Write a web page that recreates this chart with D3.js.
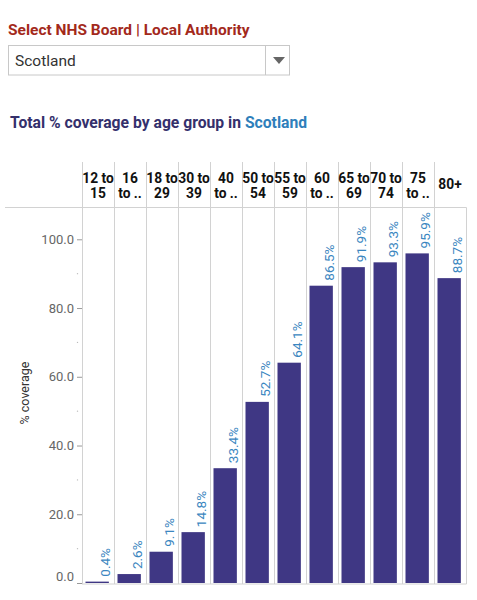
<!DOCTYPE html>
<html>
<head>
    <meta charset='utf-8' />
    <title>coverage by age group</title>
    <style>
      body { margin: 0; background: #fff; font-family: Roboto, "Noto Sans", sans-serif; }
    </style>
</head>
<body>
  <div id="wrapper"></div>
<script src='https://d3js.org/d3.v7.min.js' charset='utf-8'></script>
<script>
const width = 477
const height = 600

// age groups + the (truncated) header text shown above each column
const ageGroups = ["12 to 15", "16 to 17", "18 to 29", "30 to 39", "40 to 49", "50 to 54",
                   "55 to 59", "60 to 64", "65 to 69", "70 to 74", "75 to 79", "80+"]
const headerLines = [["12 to", "15"], ["16", "to .."], ["18 to", "29"], ["30 to", "39"],
                     ["40", "to .."], ["50 to", "54"], ["55 to", "59"], ["60", "to .."],
                     ["65 to", "69"], ["70 to", "74"], ["75", "to .."], ["80+"]]
const coverage = [0.4, 2.6, 9.1, 14.8, 33.4, 52.7, 64.1, 86.5, 91.9, 93.3, 95.9, 88.7]
const yTicks = [0, 20, 40, 60, 80, 100]
const yMinorTicks = [10, 30, 50, 70, 90]
const area = "Scotland"

const barColor = "#3f3784"
const labelColor = "#3a86c0"
const gridColor = "#d2d2d2"

const svg = d3.select("#wrapper").append("svg")
    .attr("width", width)
    .attr("height", height)

// --- selector at the top
svg.append("text")
    .attr("x", 8).attr("y", 35)
    .attr("font-size", 15.5).attr("font-weight", "bold")
    .attr("fill", "#a3291b")
    .text("Select NHS Board | Local Authority")

svg.append("rect")
    .attr("x", 8.5).attr("y", 45.5).attr("width", 281).attr("height", 29.5)
    .attr("fill", "#fff").attr("stroke", "#c8c8c8")
svg.append("line")
    .attr("x1", 265.5).attr("x2", 265.5).attr("y1", 46).attr("y2", 75)
    .attr("stroke", "#c8c8c8")
svg.append("path")
    .attr("d", "M273,57 L285,57 L279,64 Z")
    .attr("fill", "#666")
svg.append("text")
    .attr("x", 15).attr("y", 66)
    .attr("font-size", 15.5).attr("fill", "#333")
    .text(area)

// --- title
const title = svg.append("text")
    .attr("x", 10).attr("y", 128)
    .attr("font-size", 15.7).attr("font-weight", "bold")
    .attr("fill", "#34306c")
title.append("tspan").text("Total % coverage by age group in ")
title.append("tspan").attr("fill", "#2f7fbb").text(area)

// --- scales
const x = d3.scaleBand()
    .domain(ageGroups)
    .range([82, 466])

const y = d3.scaleLinear()
    .domain([0, 100])
    .range([583, 239.3])

const headerTop = 162
const headerBottom = 207.5
const plotBottom = 584

// column dividers
const edges = ageGroups.map(d => x(d)).concat([x.range()[1]])
svg.append("g").selectAll("line")
    .data(edges)
    .enter().append("line")
    .attr("x1", d => Math.round(d) + 0.5)
    .attr("x2", d => Math.round(d) + 0.5)
    .attr("y1", (d, i) => i === edges.length - 1 ? headerBottom : headerTop)
    .attr("y2", plotBottom)
    .attr("stroke", gridColor)

// header separator + bottom line
svg.append("line")
    .attr("x1", 5).attr("x2", 466.5)
    .attr("y1", headerBottom).attr("y2", headerBottom)
    .attr("stroke", gridColor)
svg.append("line")
    .attr("x1", 82).attr("x2", 466.5)
    .attr("y1", plotBottom).attr("y2", plotBottom)
    .attr("stroke", gridColor)

// column headers
const headers = svg.append("g").selectAll("text")
    .data(ageGroups)
    .enter().append("text")
    .attr("text-anchor", "middle")
    .attr("font-size", 13.8).attr("font-weight", "bold")
    .attr("fill", "#111")
headers.each(function(d, i) {
    const lines = headerLines[i]
    const cx = x(d) + x.bandwidth() / 2
    const t = d3.select(this)
    if (lines.length === 1) {
        t.append("tspan").attr("x", cx).attr("y", 189).text(lines[0])
    } else {
        lines.forEach((s, k) => {
            t.append("tspan").attr("x", cx).attr("y", 183 + k * 14.5).text(s)
        })
    }
})

// y axis
const yAxis = svg.append("g")
    .attr("transform", "translate(82,0)")
    .call(d3.axisLeft(y).tickValues(yTicks).tickFormat(d3.format(".1f")).tickSize(5).tickPadding(3))
yAxis.select(".domain").remove()
yAxis.selectAll(".tick line").attr("stroke", "#999")
yAxis.selectAll(".tick text")
    .attr("font-family", "Roboto, sans-serif")
    .attr("font-size", 13)
    .attr("fill", "#666")
    .attr("dy", d => d === 0 ? "-0.2em" : "0.32em")

svg.append("g").selectAll("circle")
    .data(yMinorTicks)
    .enter().append("circle")
    .attr("cx", 77.5)
    .attr("cy", d => y(d))
    .attr("r", 0.7)
    .attr("fill", "#bbb")

svg.append("text")
    .attr("transform", "translate(29," + 393 + ") rotate(-90)")
    .attr("text-anchor", "middle")
    .attr("font-size", 12.5).attr("fill", "#333")
    .text("% coverage")

// bars
const barOffset = 3.5
const barWidth = x.bandwidth() * 0.73
svg.append("g").selectAll("rect")
    .data(coverage)
    .enter().append("rect")
    .attr("x", (d, i) => x(ageGroups[i]) + barOffset)
    .attr("y", d => y(d))
    .attr("width", barWidth)
    .attr("height", d => y(0) - y(d))
    .attr("fill", barColor)

// value labels, rotated
svg.append("g").selectAll("text")
    .data(coverage)
    .enter().append("text")
    .attr("transform", (d, i) => {
        const bx = x(ageGroups[i]) + barOffset + barWidth / 2 + 13
        return "translate(" + bx + "," + (y(d) - 5) + ") rotate(-90)"
    })
    .attr("font-size", 13.5)
    .attr("fill", labelColor)
    .text(d => d.toFixed(1) + "%")
</script>
</body>
</html>
